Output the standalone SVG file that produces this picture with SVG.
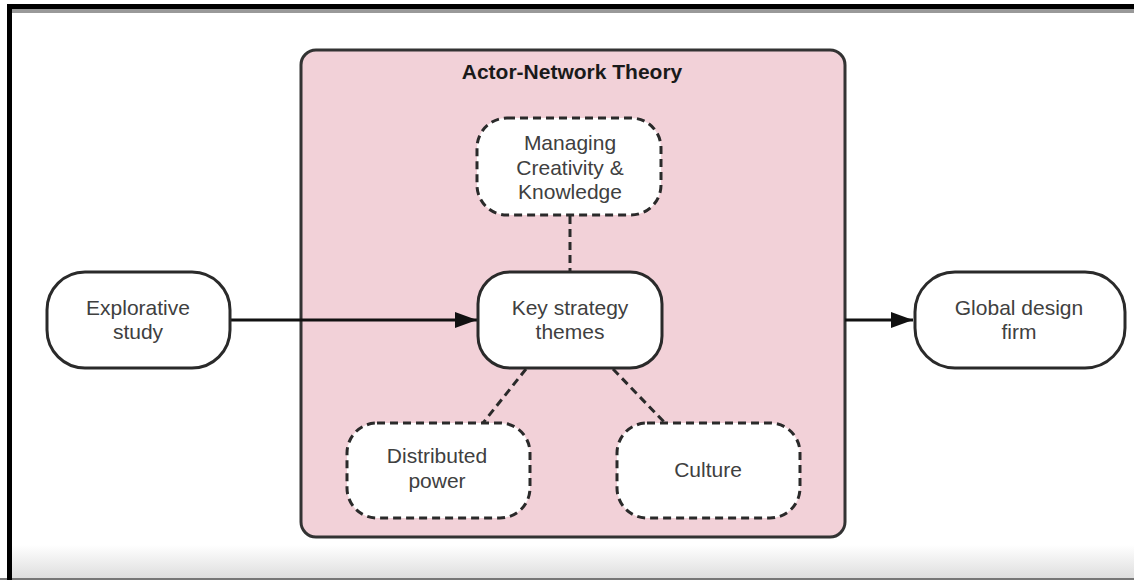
<svg xmlns="http://www.w3.org/2000/svg" width="1134" height="580" viewBox="0 0 1134 580">
<defs>
<linearGradient id="bot" x1="0" y1="0" x2="0" y2="1">
<stop offset="0" stop-color="#ffffff"/>
<stop offset="1" stop-color="#dedede"/>
</linearGradient>
<marker id="arr" markerWidth="22" markerHeight="16" refX="22" refY="8" orient="auto" markerUnits="userSpaceOnUse" viewBox="0 0 22 16">
<path d="M0,0 L22,8 L0,16 z" fill="#111"/>
</marker>
<style>
.node{fill:#fff;stroke:#2a2a2a;stroke-width:3}
.dash{fill:#fff;stroke:#2a2a2a;stroke-width:3;stroke-dasharray:8,5}
.lbl{font-family:"Liberation Sans",Arial,sans-serif;font-size:21px;fill:#404040;text-anchor:middle}
.title{font-family:"Liberation Sans",Arial,sans-serif;font-size:21px;font-weight:bold;fill:#1a1a1a;text-anchor:middle}
.conn{stroke:#111;stroke-width:3;fill:none}
.dconn{stroke:#2a2a2a;stroke-width:3;fill:none;stroke-dasharray:8,5}
</style>
</defs>
<rect x="0" y="0" width="1134" height="580" fill="#fff"/>
<rect x="12" y="545" width="1122" height="33" fill="url(#bot)"/>
<rect x="0" y="578" width="1134" height="2" fill="#777"/>
<rect x="7" y="9" width="1127" height="4" fill="#999"/>
<rect x="7" y="4" width="1127" height="5" fill="#000"/>
<rect x="7" y="4" width="5" height="576" fill="#000"/>

<g id="ant">
<rect x="301" y="50" width="544" height="487" rx="15" fill="#f2d1d8" stroke="#333" stroke-width="3"/>
<text class="title" x="572" y="79">Actor-Network Theory</text>
</g>

<g id="connectors">
<line class="conn" x1="230" y1="320" x2="477" y2="320" marker-end="url(#arr)"/>
<line class="conn" x1="845" y1="320" x2="913" y2="320" marker-end="url(#arr)"/>
<line class="dconn" x1="570" y1="216" x2="570" y2="271"/>
<line class="dconn" x1="526" y1="369" x2="483" y2="423"/>
<line class="dconn" x1="613" y1="369" x2="665" y2="423"/>
</g>

<g id="explorative">
<rect class="node" x="47" y="272" width="183" height="96" rx="38"/>
<text class="lbl" x="138" y="315">Explorative</text>
<text class="lbl" x="138" y="339">study</text>
</g>

<g id="managing">
<rect class="dash" x="477" y="118" width="184" height="97" rx="30"/>
<text class="lbl" x="570" y="150">Managing</text>
<text class="lbl" x="570" y="175">Creativity &amp;</text>
<text class="lbl" x="570" y="199">Knowledge</text>
</g>

<g id="key">
<rect class="node" x="478" y="272" width="184" height="96" rx="32"/>
<text class="lbl" x="570" y="315">Key strategy</text>
<text class="lbl" x="570" y="339">themes</text>
</g>

<g id="distributed">
<rect class="dash" x="347" y="423" width="183" height="95" rx="30"/>
<text class="lbl" x="437" y="463">Distributed</text>
<text class="lbl" x="437" y="488">power</text>
</g>

<g id="culture">
<rect class="dash" x="617" y="423" width="183" height="95" rx="30"/>
<text class="lbl" x="708" y="477">Culture</text>
</g>

<g id="global">
<rect class="node" x="915" y="272" width="210" height="96" rx="40"/>
<text class="lbl" x="1019" y="315">Global design</text>
<text class="lbl" x="1019" y="339">firm</text>
</g>
</svg>
